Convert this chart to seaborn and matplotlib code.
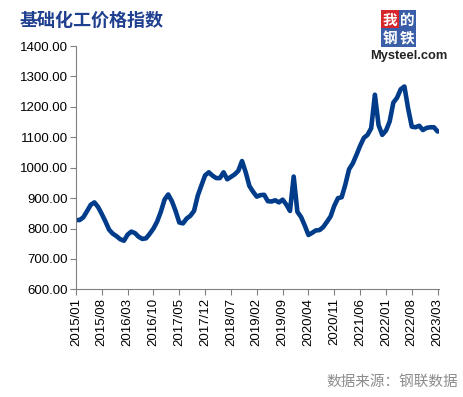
import matplotlib
matplotlib.use("Agg")
import matplotlib.pyplot as plt
import seaborn as sns
import pandas as pd

# monthly index values, 2015/01 .. 2023/03
months = pd.date_range("2015-01-01", "2023-03-01", freq="MS").strftime("%Y/%m").tolist()
values = [
    828, 828, 837, 857, 878, 886, 871, 848, 823, 796,
    783, 775, 765, 760, 780, 790, 785, 773, 766, 768,
    783, 800, 823, 855, 895, 912, 890, 858, 820, 817,
    833, 842, 858, 908, 942, 975, 985, 974, 966, 966,
    985, 962, 970, 978, 990, 1022, 985, 940, 921, 905,
    910, 911, 890, 889, 893, 886, 895, 879, 858, 971,
    855, 838, 810, 779, 786, 794, 795, 805, 822, 840,
    875, 900, 903, 945, 995, 1014, 1042, 1072, 1098, 1108,
    1130, 1240, 1140, 1108, 1122, 1152, 1214, 1230, 1258, 1267,
    1195, 1135, 1133, 1138, 1124, 1131, 1133, 1133, 1119,
]
title = "基础化工价格指数"
source = "数据来源：钢联数据"

df = pd.DataFrame({"idx": range(len(values)), "value": values})

sns.set_style("white")
plt.rcParams["font.family"] = ["Noto Sans CJK SC", "DejaVu Sans"]

fig = plt.figure(figsize=(4.63, 3.97), dpi=100)
ax = fig.add_axes([0.164, 0.271, 0.784, 0.613])

sns.lineplot(data=df, x="idx", y="value", ax=ax, color="#003C8A", linewidth=3.3)

ax.set_xlim(0, 98.35)
ax.set_ylim(600, 1400)
ax.set_yticks(range(600, 1401, 100))
ax.set_yticklabels([f"{v}.00" for v in range(600, 1401, 100)],
                   family=["Liberation Sans"], fontsize=9.5)
ticks = list(range(0, len(months), 7))
ax.set_xticks(ticks)
ax.set_xticklabels([months[i] for i in ticks], rotation=90,
                   family=["Liberation Sans"], fontsize=9.5)
ax.set_xlabel("")
ax.set_ylabel("")

for s in ["top", "right"]:
    ax.spines[s].set_visible(False)
for s in ["left", "bottom"]:
    ax.spines[s].set_color("#808080")
    ax.spines[s].set_linewidth(0.8)
ax.tick_params(axis="both", direction="out", length=4, width=0.8, color="#808080",
               left=True, bottom=True, pad=2, labelcolor="#000000")

fig.text(0.043, 0.948, title, fontsize=13, fontweight="bold", color="#1F3F8F",
         va="center", ha="left")

# Mysteel logo approximation
boxes = [("我", 0.842, 0.950, "#D7262B"), ("的", 0.880, 0.950, "#3A5FA8"),
         ("钢", 0.842, 0.906, "#3A5FA8"), ("铁", 0.880, 0.906, "#3A5FA8")]
for ch, bx, by, bc in boxes:
    fig.text(bx, by, ch, fontsize=10.5, fontweight="bold", color="white",
             ha="center", va="center",
             bbox=dict(boxstyle="square,pad=0.1", fc=bc, ec="none"))
fig.text(0.8, 0.86, "Mysteel.com", fontsize=9.3, fontweight="bold", color="#222222",
         family=["Liberation Sans"], ha="left", va="center")

fig.text(0.99, 0.037, source, fontsize=10.5, color="#8C8C8C", ha="right", va="center")

fig.savefig("out.png", dpi=100)
